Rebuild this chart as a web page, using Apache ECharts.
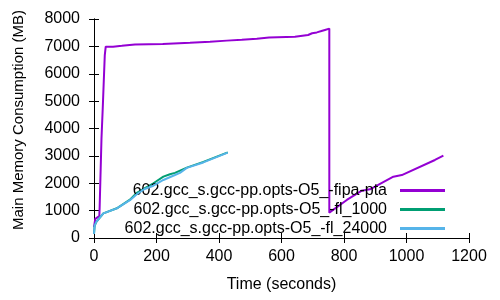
<!DOCTYPE html>
<html><head><meta charset="utf-8">
<script src="https://cdn.jsdelivr.net/npm/echarts@6/dist/echarts.min.js"></script>
<style>html,body{margin:0;padding:0;background:#fff}#c{width:500px;height:300px}</style>
</head><body><div id="c"></div>
<script>
const seriesNames = ['602.gcc_s.gcc-pp.opts-O5_-fipa-pta','602.gcc_s.gcc-pp.opts-O5_-fl_1000','602.gcc_s.gcc-pp.opts-O5_-fl_24000'];
const colors = ['#9400d3','#009e73','#56b4e9'];
const xTicks = [0,200,400,600,800,1000,1200];
const yTicks = [0,1000,2000,3000,4000,5000,6000,7000,8000];
// time (s), memory (MB)
const fipaPta = [[0,400],[4,700],[17,800],[18,1100],[23,1150],[24,3650],[27.5,3650],[28,4750],[31,4750],[31.5,5800],[34,5800],[34.5,6680],[37,6680],[37.5,6990],[61,6990],[61,7020],[89,7020],[89,7070],[131,7070],[131,7090],[220,7090],[220,7130],[307,7130],[307,7170],[371,7170],[371,7210],[425,7210],[425,7240],[473,7240],[473,7280],[521,7280],[521,7320],[560,7320],[560,7350],[643,7350],[643,7415],[685,7415],[685,7480],[698,7480],[698,7510],[713,7510],[713,7550],[725,7550],[725,7600],[739,7600],[739,7650],[753,7650],[753,925],[809,1390],[857,1730],[883,1780],[958,2240],[985,2300],[1091,2850],[1118,3010]];
const fl1000 = [[0,150],[2,450],[8,600],[30,900],[73,1085],[115,1400],[137,1650],[160,1800],[190,2000],[222,2240],[243,2330],[259,2380],[297,2570],[350,2780],[428,3130]];
const fl24000 = [[0,150],[2,450],[8,600],[30,900],[73,1080],[115,1380],[137,1600],[160,1780],[190,1910],[222,2120],[259,2300],[275,2380],[297,2560],[350,2760],[428,3120]];

const font = 'Liberation Sans, Arial, sans-serif';
const fs = 16;
const chart = echarts.init(document.getElementById('c'), null, {renderer:'canvas'});
const xBase = {type:'value', min:xTicks[0], max:xTicks[xTicks.length-1], interval:200,
  splitLine:{show:false}, axisLine:{show:true,lineStyle:{color:'#000',width:1}},
  axisTick:{show:true,inside:true,length:5,lineStyle:{color:'#000'}}};
const yBase = {type:'value', min:yTicks[0], max:yTicks[yTicks.length-1], interval:1000,
  splitLine:{show:false}, axisLine:{show:true,lineStyle:{color:'#000',width:1}},
  axisTick:{show:true,inside:true,length:5,lineStyle:{color:'#000'}}};
const data = [fipaPta, fl1000, fl24000];
chart.setOption({
  animation:false,
  textStyle:{fontFamily:font},
  grid:{left:94,right:31,top:19,bottom:62},
  xAxis:[
    Object.assign({}, xBase, {position:'bottom', name:'Time (seconds)', nameLocation:'middle', nameGap:39,
      nameTextStyle:{fontSize:fs,color:'#000',fontFamily:font},
      axisLabel:{show:true,margin:11,fontSize:fs,color:'#000',fontFamily:font,formatter:v=>String(v)}}),
    Object.assign({}, xBase, {position:'top', axisLabel:{show:false}})
  ],
  yAxis:[
    Object.assign({}, yBase, {position:'left', axisLabel:{show:true,margin:14,fontSize:fs,color:'#000',fontFamily:font,formatter:v=>String(v)}}),
    Object.assign({}, yBase, {position:'right', axisLabel:{show:false}})
  ],
  legend:{orient:'vertical', right:50, top:176, align:'right', itemGap:0, itemWidth:45, itemHeight:3,
    icon:'rect', textStyle:{fontSize:fs,color:'#000',fontFamily:font,lineHeight:19,padding:[0,8,0,0]},
    data:seriesNames},
  graphic:[{type:'text', x:19, y:120, rotation:Math.PI/2,
    style:{text:'Main Memory Consumption (MB)', fill:'#000', font:'15px '+font, textAlign:'center', textVerticalAlign:'middle'}}],
  series: seriesNames.map((n,i)=>({name:n, type:'line', data:data[i], showSymbol:false, symbol:'none',
    lineStyle:{color:colors[i], width:2}, itemStyle:{color:colors[i]}, z:2+i}))
});
</script></body></html>
